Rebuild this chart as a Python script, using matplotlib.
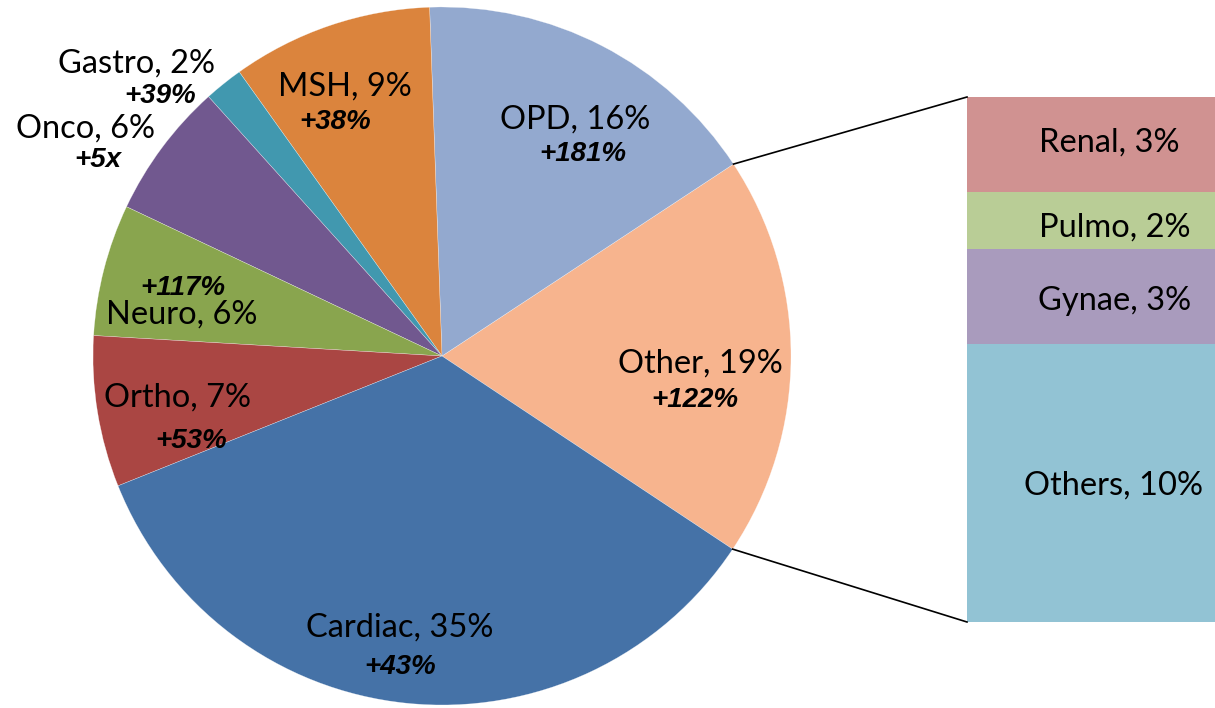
import numpy as np
import matplotlib
matplotlib.use("Agg")
import matplotlib.pyplot as plt

# Pie slices (share of total, %), counter-clockwise starting with "Other"
pie_names = ["Other", "OPD", "MSH", "Gastro", "Onco", "Neuro", "Ortho", "Cardiac"]
pie_values = [18.6, 16.3, 9.3, 1.8, 6.3, 6.1, 7.0, 34.6]
pie_growth = ["+122%", "+181%", "+38%", "+39%", "+5x", "+117%", "+53%", "+43%"]
pie_colors = ["#F7B48E", "#93A9CF", "#DB843D", "#4198AF", "#71588F",
              "#89A54E", "#AA4643", "#4572A7"]

# Breakdown of "Other" (top to bottom)
bar_names = ["Renal", "Pulmo", "Gynae", "Others"]
bar_values = [3.45, 2.05, 3.45, 10.05]
bar_colors = ["#D09291", "#B9CD96", "#A99BBD", "#92C3D4"]

W, H = 1215, 708
fig = plt.figure(figsize=(W / 100, H / 100), dpi=100)
ax = fig.add_axes([0, 0, 1, 1])

cx, cy, R = 442, 352, 349
start = -33.6
wedges, _ = ax.pie(pie_values, colors=pie_colors, startangle=start,
                   counterclock=True, radius=R, center=(cx, cy),
                   wedgeprops=dict(edgecolor=(1, 1, 1, 0.6), linewidth=0.3))

# bar of the "Other" slice
bx, bw, btop, bbot = 967, 248, H - 97, H - 622
scale = (btop - bbot) / sum(bar_values)
bottom = btop
for name, v, c in zip(bar_names, bar_values, bar_colors):
    h = v * scale
    bottom -= h
    ax.bar(bx, h, width=bw, bottom=bottom, align="edge", color=c, linewidth=0)

# connector lines from the "Other" slice to the bar
a1 = np.deg2rad(start + pie_values[0] * 3.6)
a0 = np.deg2rad(start)
ax.plot([cx + R * np.cos(a1), bx], [cy + R * np.sin(a1), btop], color="black", lw=1.2)
ax.plot([cx + R * np.cos(a0), bx], [cy + R * np.sin(a0), bbot], color="black", lw=1.2)

# label layout (image px: name x, name baseline, growth x, growth baseline)
pie_label_pos = {
    "Other": (700, 373, 695, 407),
    "OPD": (575, 129, 583, 161),
    "MSH": (345, 96, 335, 129),
    "Gastro": (137, 73, 160, 103),
    "Onco": (85, 138, 98, 167),
    "Neuro": (182, 324, 183, 295),
    "Ortho": (177, 407, 191, 448),
    "Cardiac": (400, 637, 400, 674),
}
name_font = dict(family="Lato", fontsize=23.5, color="black")
growth_font = dict(family="Liberation Sans", fontsize=20, fontweight="bold",
                   fontstyle="italic", color="black")

for name, v, g in zip(pie_names, pie_values, pie_growth):
    nx, ny, gx, gy = pie_label_pos[name]
    ax.text(nx, H - ny, f"{name}, {round(v)}%", ha="center", va="baseline", **name_font)
    ax.text(gx, H - gy, g, ha="center", va="baseline", **growth_font)

bar_label_pos = [(1109, 152), (1115, 237), (1115, 310), (1114, 495)]
for (name, v), (lx, ly) in zip(zip(bar_names, bar_values), bar_label_pos):
    ax.text(lx, H - ly, f"{name}, {round(v)}%", ha="center", va="baseline", **name_font)

ax.set_xlim(0, W)
ax.set_ylim(0, H)
ax.set_aspect("equal")
ax.axis("off")

fig.savefig("out.png", dpi=100)
